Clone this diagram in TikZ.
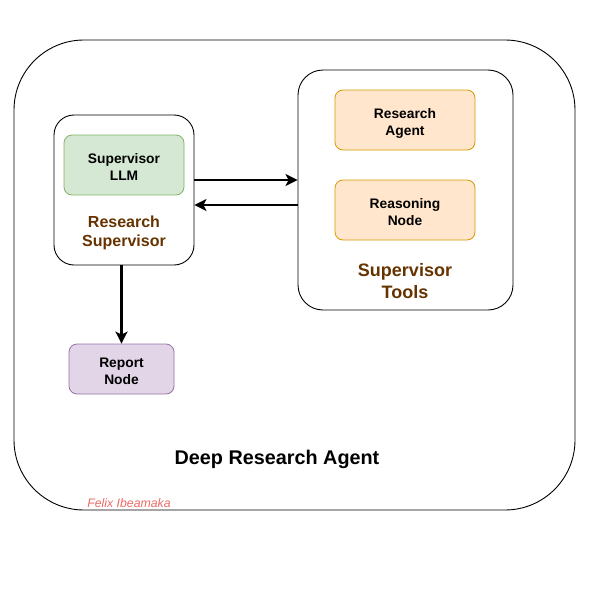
\documentclass[tikz,border=0pt]{standalone}
\usepackage{fontspec}
\setmainfont{Liberation Sans}
\usetikzlibrary{arrows.meta,positioning}
\definecolor{llmfill}{HTML}{D5E8D4}
\definecolor{llmdraw}{HTML}{82B366}
\definecolor{toolfill}{HTML}{FFE6CC}
\definecolor{tooldraw}{HTML}{D79B00}
\definecolor{repfill}{HTML}{E1D5E7}
\definecolor{repdraw}{HTML}{9673A6}
\definecolor{brownlabel}{HTML}{663300}
\definecolor{signred}{HTML}{EA6B66}

\begin{document}
\begin{tikzpicture}[x=1pt, y=-1pt,
  every node/.style={font=\bfseries\fontsize{13.8}{16.6}\selectfont, align=center, inner sep=0pt},
  frame/.style={draw, line width=0.9pt, rounded corners=20pt},
  box/.style={draw, line width=0.8pt, rounded corners=8pt, minimum width=140pt, minimum height=60pt,
    text height=31pt, text depth=0pt},
  label/.style={text=brownlabel, font=\bfseries\fontsize{16}{19}\selectfont},
  arr/.style={line width=2.6pt, -{Stealth[length=12pt, width=12pt, inset=3pt]}}
]
\useasboundingbox (0,0) rectangle (597,597);
% outer frame
\node[frame, rounded corners=70pt, minimum width=561pt, minimum height=470pt] (agent) at (294.5,275) {};
\node[font=\bfseries\fontsize{19.8}{23}\selectfont] (title) at (277,459) {Deep Research Agent};
\node[font=\itshape\fontsize{12.3}{14}\selectfont, text=signred] (sign) at (129,503) {Felix Ibeamaka};
% supervisor side
\node[frame, minimum width=140pt, minimum height=150pt] (sup) at (124,190) {};
\node[box, fill=llmfill, draw=llmdraw, minimum width=120pt] (llm) at (124,165) {Supervisor\\LLM};
\node[label] (suplabel) at (124,233) {Research\\Supervisor};
% tools side
\node[frame, rounded corners=25pt, minimum width=215pt, minimum height=240pt] (tools) at (405.5,190) {};
\node[box, fill=toolfill, draw=tooldraw] (research) at (405,120) {Research\\Agent};
\node[box, fill=toolfill, draw=tooldraw] (reason) at (405,210) {Reasoning\\Node};
\node[label, font=\bfseries\fontsize{18}{22}\selectfont] (toolslabel) at (405,281) {Supervisor\\Tools};
% report
\node[box, fill=repfill, draw=repdraw, minimum width=105pt, minimum height=50pt] (report) at (121.5,369) {Report\\Node};
% edges with arrows
\draw[arr] ([yshift=10pt]sup.east) -- ([yshift=10pt]tools.west);
\draw[arr] ([yshift=-15pt]tools.west) -- ([yshift=-15pt]sup.east);
\draw[arr] (report.north |- sup.south) -- (report.north);
\end{tikzpicture}
\end{document}
